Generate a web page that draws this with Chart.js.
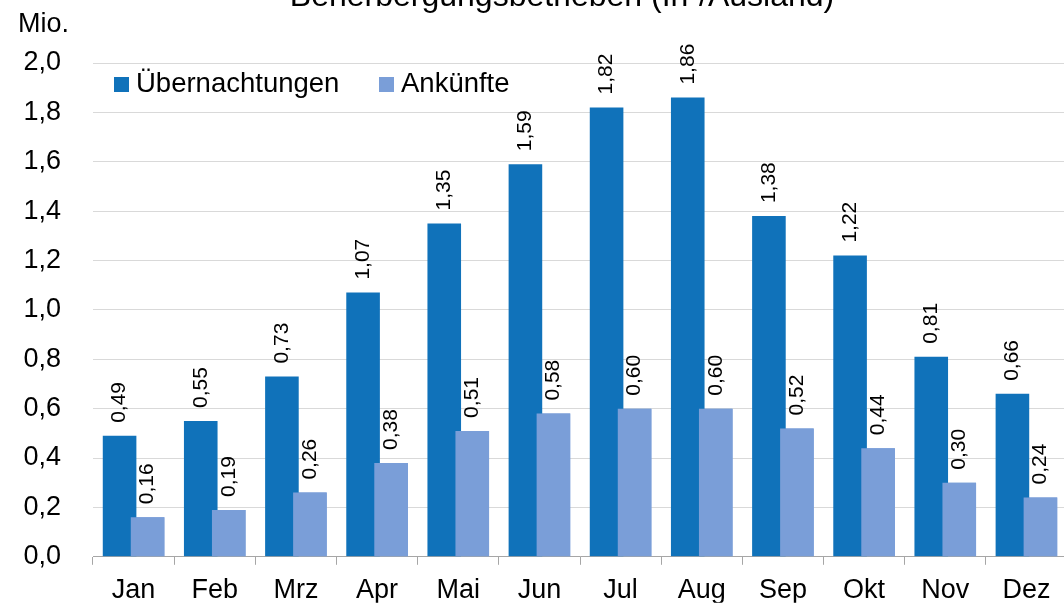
<!DOCTYPE html>
<html>
<head>
<meta charset="utf-8">
<script src="https://cdn.jsdelivr.net/npm/chart.js@4"></script>
<style>
    html, body { margin: 0; padding: 0; background: #fff; }
    #wrap { width: 1064px; height: 605px; overflow: hidden; position: relative; }
    #barChart { position: absolute; left: 0; top: 0; }
</style>
</head>
<body>
<div id="wrap"><canvas id="barChart" width="1100" height="605"></canvas></div>
<script>
// Data
const months = ['Jan', 'Feb', 'Mrz', 'Apr', 'Mai', 'Jun', 'Jul', 'Aug', 'Sep', 'Okt', 'Nov', 'Dez'];
const uebernachtungen = [0.49, 0.55, 0.73, 1.07, 1.35, 1.59, 1.82, 1.86, 1.38, 1.22, 0.81, 0.66];
const ankuenfte = [0.16, 0.19, 0.26, 0.38, 0.51, 0.58, 0.60, 0.60, 0.52, 0.44, 0.30, 0.24];
const seriesNames = ['Übernachtungen', 'Ankünfte'];
const titleText = 'Beherbergungsbetrieben (In-/Ausland)';
const unitText = 'Mio.';

const FONT = '"Liberation Sans", Arial, sans-serif';
const darkBlue = '#1072BA';
const lightBlue = '#7A9ED8';

Chart.defaults.color = '#000';
Chart.defaults.font.family = FONT;

const fmt = v => v.toFixed(2).replace('.', ',');

// light bars overlap the dark ones, so paint them again on top
const overlapPlugin = {
    id: 'overlap',
    afterDatasetsDraw(chart) {
        const meta = chart.getDatasetMeta(1);
        const area = chart.chartArea;
        const ctx = chart.ctx;
        ctx.save();
        ctx.beginPath();
        ctx.rect(area.left, area.top, area.right - area.left, area.bottom - area.top);
        ctx.clip();
        meta.controller.draw();
        ctx.restore();
    }
};

// rotated value labels above bars
const valueLabels = {
    id: 'valueLabels',
    afterDatasetsDraw(chart) {
        const ctx = chart.ctx;
        ctx.save();
        ctx.font = '21px ' + FONT;
        ctx.fillStyle = '#000';
        ctx.textAlign = 'left';
        ctx.textBaseline = 'middle';
        chart.data.datasets.forEach((ds, i) => {
            chart.getDatasetMeta(i).data.forEach((bar, j) => {
                ctx.save();
                ctx.translate(bar.x, bar.y - 13);
                ctx.rotate(-Math.PI / 2);
                ctx.fillText(fmt(ds.data[j]), 0, 0);
                ctx.restore();
            });
        });
        ctx.restore();
    }
};

// title (cut off at the top), unit and legend inside the plot
const decorations = {
    id: 'decorations',
    afterDraw(chart) {
        const ctx = chart.ctx;
        ctx.save();
        ctx.fillStyle = '#000';
        ctx.textBaseline = 'alphabetic';
        ctx.font = '32px ' + FONT;
        ctx.textAlign = 'center';
        ctx.fillText(titleText, 562, 6);
        ctx.font = '27px ' + FONT;
        ctx.textAlign = 'left';
        ctx.fillText(unitText, 18, 32);

        const legendX = [114, 379];
        chart.data.datasets.forEach((ds, i) => {
            ctx.fillStyle = ds.backgroundColor;
            ctx.fillRect(legendX[i], 77, 15, 15);
            ctx.fillStyle = '#000';
            ctx.font = '27.5px ' + FONT;
            ctx.fillText(ds.label, legendX[i] + 22, 92);
        });
        ctx.restore();
    }
};

const ctx = document.getElementById('barChart').getContext('2d');
const barChart = new Chart(ctx, {
    type: 'bar',
    data: {
        labels: months,
        datasets: [{
            label: seriesNames[0],
            data: uebernachtungen,
            backgroundColor: darkBlue,
            categoryPercentage: 0.69,
            barPercentage: 1.2
        }, {
            label: seriesNames[1],
            data: ankuenfte,
            backgroundColor: lightBlue,
            categoryPercentage: 0.69,
            barPercentage: 1.2
        }]
    },
    options: {
        responsive: false,
        animation: false,
        layout: { padding: { top: 63, right: 33, bottom: 0, left: 0 } },
        plugins: {
            legend: { display: false },
            title: { display: false },
            tooltip: { enabled: false }
        },
        scales: {
            x: {
                grid: {
                    drawOnChartArea: false,
                    drawTicks: true,
                    tickLength: 8,
                    color: '#a6a6a6'
                },
                border: { color: '#a6a6a6', width: 1 },
                ticks: { font: { size: 27 }, padding: 10, maxRotation: 0 },
                afterFit(scale) { scale.height = 46; }
            },
            y: {
                min: 0,
                max: 2,
                grid: { color: '#d9d9d9', drawTicks: false },
                border: { display: false },
                ticks: {
                    stepSize: 0.2,
                    padding: 32,
                    font: { size: 27 },
                    callback: v => v.toFixed(1).replace('.', ',')
                },
                afterFit(scale) { scale.width = 93; }
            }
        }
    },
    plugins: [overlapPlugin, valueLabels, decorations]
});
</script>
</body>
</html>
